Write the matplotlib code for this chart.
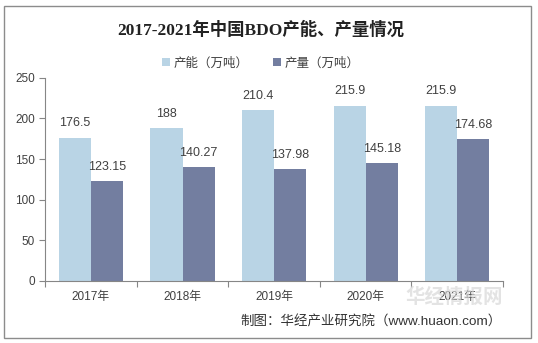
import numpy as np
import matplotlib.pyplot as plt
from matplotlib.patches import Rectangle

plt.rcParams['font.family'] = ['Liberation Sans', 'Noto Sans CJK SC']

years = ['2017年', '2018年', '2019年', '2020年', '2021年']
capacity = [176.5, 188, 210.4, 215.9, 215.9]
output = [123.15, 140.27, 137.98, 145.18, 174.68]
cap_labels = ['176.5', '188', '210.4', '215.9', '215.9']
out_labels = ['123.15', '140.27', '137.98', '145.18', '174.68']

fig = plt.figure(figsize=(5.38, 3.43), dpi=100)
fig.patches.append(Rectangle((0.0075, 0.015), 0.979, 0.967, transform=fig.transFigure,
                             fill=False, edgecolor='#8c8c8c', linewidth=1))
ax = fig.add_axes([0.084, 0.181, 0.851, 0.592])

x = np.arange(len(years))
w = 0.35
b1 = ax.bar(x - w/2, capacity, w, color='#b9d4e5', label='产能（万吨）')
b2 = ax.bar(x + w/2, output, w, color='#737ea0', label='产量（万吨）')

for i in range(len(years)):
    ax.text(x[i] - w/2, capacity[i] + 10, cap_labels[i], ha='center', va='bottom',
            fontsize=9, color='#404040')
    ax.text(x[i] + w/2, output[i] + 10, out_labels[i], ha='center', va='bottom',
            fontsize=9, color='#404040')

ax.set_xlim(-0.5, len(years) - 0.5)
ax.set_ylim(0, 250)
ax.set_yticks([0, 50, 100, 150, 200, 250])
ax.set_xticks(np.arange(-0.5, len(years), 1.0), minor=False)
ax.set_xticklabels([])
ax.set_xticks(x, minor=True)
ax.set_xticklabels(years, minor=True)
ax.tick_params(axis='x', which='minor', length=0, labelsize=8.5, pad=7, colors='#404040')
ax.tick_params(axis='x', which='major', length=4, color='#868686')
ax.tick_params(axis='y', length=4, labelsize=8.5, colors='#404040', color='#868686')
for s in ['top', 'right']:
    ax.spines[s].set_visible(False)
ax.spines['left'].set_color('#868686')
ax.spines['bottom'].set_color('#868686')

fig.text(0.485, 0.913, '2017-2021年中国BDO产能、产量情况', ha='center', va='center',
         fontsize=12.5, fontweight='bold', color='#222222',
         family=['Liberation Serif', 'Noto Sans CJK SC'])
fig.legend(handles=[b1, b2], loc='center', bbox_to_anchor=(0.485, 0.815), ncol=2,
           frameon=False, fontsize=9, handlelength=0.6, handleheight=0.6,
           columnspacing=2.0, handletextpad=0.3, labelcolor='#404040')

# faint watermark, as in the source image
fig.text(0.845, 0.135, '华经情报网', ha='center', va='center', fontsize=14,
         fontweight='bold', color='#d8d8d8', alpha=0.7, zorder=0)
fig.text(0.932, 0.061, '制图：华经产业研究院（www.huaon.com）', ha='right', va='center',
         fontsize=9.7, color='#333333')

fig.savefig('out.png', dpi=100)
